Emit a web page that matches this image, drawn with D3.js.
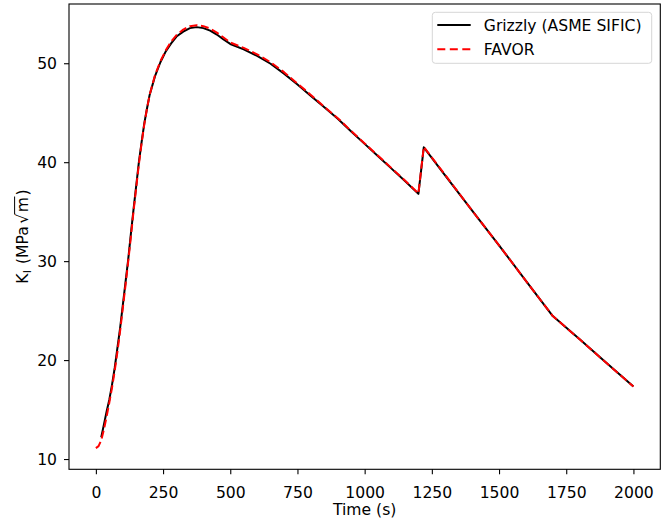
<!DOCTYPE html>
<html>
<head>
<meta charset="utf-8">
<script src="https://cdn.jsdelivr.net/npm/d3@7/dist/d3.min.js"></script>
<style>
  html, body { margin: 0; padding: 0; background: #fff; }
  svg { display: block; }
  text { font-family: "DejaVu Sans", sans-serif; fill: #000; }
</style>
</head>
<body>
<svg id="chart" width="672" height="519"></svg>
<script>
// Stress intensity factor K_I over the transient, two solvers.
const grizzlyTime = [20, 30, 40, 50, 60, 70, 80, 90, 100, 110, 120, 130, 140, 150, 160, 170, 180, 190, 200,
  220, 240, 260, 280, 300, 325, 350, 375, 400, 425, 450, 475, 500, 550, 600, 650, 700, 750, 800, 850,
  900, 950, 1000, 1050, 1100, 1150, 1200, 1220, 1300, 1400, 1500, 1600, 1700, 1800, 1900, 2000];
const grizzlyKI = [12.2, 13.5, 14.8, 16.0, 17.5, 19.2, 21.2, 23.2, 25.5, 27.8, 30.1, 32.7, 35.2, 37.6, 40.0, 42.0, 43.9, 45.4, 46.8,
  48.7, 50.1, 51.2, 52.0, 52.7, 53.2, 53.55, 53.65, 53.55, 53.3, 52.9, 52.4, 51.95, 51.4, 50.75, 49.95, 48.95, 47.85, 46.7, 45.55,
  44.4, 43.1, 41.85, 40.6, 39.35, 38.1, 36.8, 41.5, 38.65, 35.1, 31.6, 28.0, 24.45, 22.1, 19.7, 17.32];

const favorTime = [0, 10, 20, 30, 40, 50, 60, 70, 80, 90, 100, 110, 120, 130, 140, 150, 160, 170, 180, 190, 200,
  220, 240, 260, 280, 300, 325, 350, 375, 400, 425, 450, 475, 500, 550, 600, 650, 700, 750, 800, 850,
  900, 950, 1000, 1050, 1100, 1150, 1200, 1220, 1300, 1400, 1500, 1600, 1700, 1800, 1900, 2000];
const favorKI = [11.1, 11.3, 11.9, 13.0, 14.3, 15.7, 17.2, 18.9, 20.8, 22.9, 25.2, 27.5, 29.9, 32.4, 35.0, 37.4, 39.8, 41.9, 43.8, 45.4, 46.8,
  48.8, 50.2, 51.3, 52.2, 52.85, 53.4, 53.75, 53.85, 53.75, 53.5, 53.1, 52.6, 52.1, 51.55, 50.9, 50.1, 49.1, 47.95, 46.8, 45.6,
  44.45, 43.15, 41.9, 40.65, 39.4, 38.15, 36.85, 41.55, 38.7, 35.1, 31.6, 28.0, 24.45, 22.1, 19.7, 17.32];

const xTicks = [0, 250, 500, 750, 1000, 1250, 1500, 1750, 2000];
const xTickLabels = ["0", "250", "500", "750", "1000", "1250", "1500", "1750", "2000"];
const yTicks = [10, 20, 30, 40, 50];
const yTickLabels = ["10", "20", "30", "40", "50"];
const seriesNames = ["Grizzly (ASME SIFIC)", "FAVOR"];
const seriesColors = ["#000000", "#ff0000"];

const FS = 15.6;
const box = { left: 69, right: 660.3, top: 4, bottom: 469.3 };
const svg = d3.select("#chart");

// Autoscaled limits with a 5% margin on each side
function padded(lo, hi) { const p = (hi - lo) * 0.05; return [lo - p, hi + p]; }
const allT = grizzlyTime.concat(favorTime);
const allK = grizzlyKI.concat(favorKI);
const x = d3.scaleLinear().domain(padded(d3.min(allT), d3.max(allT))).range([box.left, box.right]);
const y = d3.scaleLinear().domain(padded(d3.min(allK), d3.max(allK))).range([box.bottom, box.top]);

svg.append("rect").attr("width", 672).attr("height", 519).attr("fill", "#fff");

// Curves
const line = d3.line().x(d => x(d[0])).y(d => y(d[1]));
const grizzly = grizzlyTime.map((t, i) => [t, grizzlyKI[i]]);
const favor = favorTime.map((t, i) => [t, favorKI[i]]);

svg.append("path").datum(grizzly).attr("d", line)
  .attr("fill", "none").attr("stroke", seriesColors[0]).attr("stroke-width", 2)
  .attr("stroke-linejoin", "round");
svg.append("path").datum(favor).attr("d", line)
  .attr("fill", "none").attr("stroke", seriesColors[1]).attr("stroke-width", 2)
  .attr("stroke-dasharray", "8,3.6").attr("stroke-linejoin", "round");

// Axes
const xAxis = d3.axisBottom(x).tickValues(xTicks).tickFormat((d, i) => xTickLabels[i])
  .tickSizeInner(5).tickSizeOuter(0).tickPadding(6);
const yAxis = d3.axisLeft(y).tickValues(yTicks).tickFormat((d, i) => yTickLabels[i])
  .tickSizeInner(5).tickSizeOuter(0).tickPadding(6);

const gx = svg.append("g").attr("transform", `translate(0,${box.bottom})`).call(xAxis);
const gy = svg.append("g").attr("transform", `translate(${box.left},0)`).call(yAxis);
[gx, gy].forEach(g => {
  g.select(".domain").remove();
  g.selectAll(".tick line").attr("stroke", "#000").attr("stroke-width", 1.1);
  g.selectAll(".tick text").attr("font-size", FS).attr("font-family", "DejaVu Sans").attr("fill", "#000");
});
gx.selectAll(".tick text").attr("dy", null).attr("y", 28.7);
gy.selectAll(".tick text").attr("dy", null).attr("x", -12).attr("y", 5.7);

// Frame
svg.append("rect")
  .attr("x", box.left).attr("y", box.top)
  .attr("width", box.right - box.left).attr("height", box.bottom - box.top)
  .attr("fill", "none").attr("stroke", "#000").attr("stroke-width", 1.1);

// Axis titles
svg.append("text").attr("x", (box.left + box.right) / 2).attr("y", 515)
  .attr("text-anchor", "middle").attr("font-size", FS).text("Time (s)");

const yl = svg.append("g").attr("transform", `translate(28,${(box.top + box.bottom) / 2}) rotate(-90)`);
const ylt = yl.append("text").attr("x", 0).attr("y", 0).attr("text-anchor", "middle").attr("font-size", FS);
ylt.append("tspan").text("K");
ylt.append("tspan").attr("font-size", FS * 0.7).attr("dy", 3).attr("dx", 0.5).text("I");
ylt.append("tspan").attr("dy", -3).attr("dx", 1).text(" (MPa");
ylt.append("tspan").attr("dx", 2.5).text("\u221A");
ylt.append("tspan").attr("dx", 1.5).text("m");
ylt.append("tspan").attr("dx", 1.5).text(")");
// overline of the square root spanning the "m"
const full = ylt.text();
const rIdx = full.indexOf("\u221A");
const mIdx = full.indexOf("m", rIdx);
const node = ylt.node();
const rEnd = node.getEndPositionOfChar(rIdx);
const mEnd = node.getEndPositionOfChar(mIdx);
yl.append("line")
  .attr("x1", rEnd.x - 0.8).attr("x2", mEnd.x + 0.5)
  .attr("y1", -13.4).attr("y2", -13.4)
  .attr("stroke", "#000").attr("stroke-width", 1);

// Legend
const lg = svg.append("g");
lg.append("rect").attr("x", 432.3).attr("y", 12.3).attr("width", 219.4).attr("height", 51)
  .attr("rx", 3).attr("fill", "#fff").attr("fill-opacity", 0.8)
  .attr("stroke", "#d6d6d6").attr("stroke-width", 1);
const rows = [25, 49.3];
seriesNames.forEach((name, i) => {
  lg.append("line").attr("x1", 437.3).attr("x2", 470.7).attr("y1", rows[i]).attr("y2", rows[i])
    .attr("stroke", seriesColors[i]).attr("stroke-width", 2)
    .attr("stroke-dasharray", i === 1 ? "8,4.5" : null);
  lg.append("text").attr("x", 483.8).attr("y", rows[i] + 5.8)
    .attr("font-size", FS).text(name);
});
</script>
</body>
</html>
